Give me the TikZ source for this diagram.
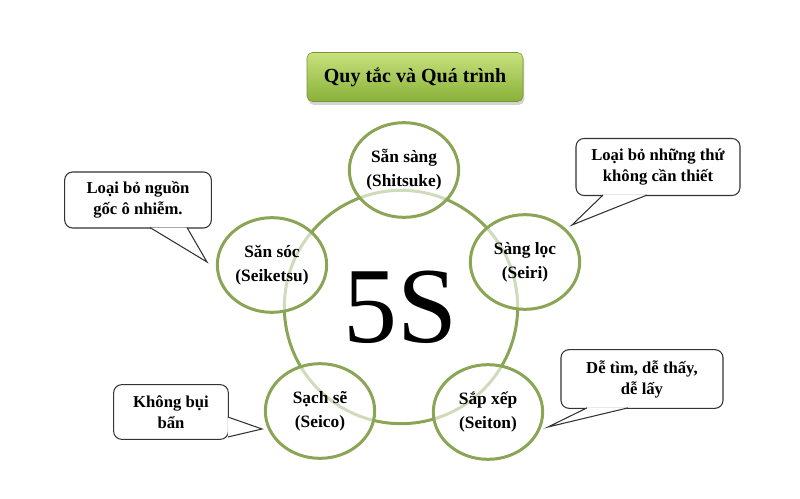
\documentclass[tikz,border=0pt]{standalone}
\usepackage{fontspec}
\setmainfont{Liberation Serif}
\usetikzlibrary{shapes,positioning,calc,shadows}
\definecolor{leaf}{RGB}{138,165,85}
\definecolor{limetop}{RGB}{200,226,125}
\definecolor{limebottom}{RGB}{136,176,56}
\definecolor{limeedge}{RGB}{118,148,58}
\tikzstyle{ring} = [circle, draw=leaf, line width=2.25pt,
    minimum size=175pt, font=\fontsize{81}{81}\selectfont]
\tikzstyle{stage} = [ellipse, draw=leaf, line width=2.25pt, fill=white,
    fill opacity=0.6, text opacity=1, inner sep=0pt, align=center,
    minimum width=82pt, minimum height=71pt, font=\bfseries\fontsize{13}{18}\selectfont]
\tikzstyle{note} = [rectangle, draw=black!80, line width=0.8pt, fill=white,
    rounded corners=6pt, align=center, font=\bfseries\fontsize{12.5}{15.75}\selectfont]
\tikzstyle{pointer} = [draw=black!80, line width=0.8pt, fill=white]
\tikzstyle{heading} = [rectangle, draw=limeedge, rounded corners=4pt,
    top color=limetop, bottom color=limebottom, minimum width=162pt,
    minimum height=36.75pt, font=\bfseries\fontsize{15}{18}\selectfont,
    drop shadow={shadow xshift=1pt, shadow yshift=-2.5pt, opacity=0.35}]

\begin{document}
\begin{tikzpicture}[x=0.75pt, y=0.75pt]
    \useasboundingbox (0,0) rectangle (800,-499);

    \node[heading] (title) at (415,-77) {Quy tắc và Quá trình};

    \node[ring] (core) at (401,-307) {5S};

    \node[stage] (shitsuke) at (404,-170) {Sẵn sàng\\(Shitsuke)};
    \node[stage] (seiri) at (525,-262) {Sàng lọc\\(Seiri)};
    \node[stage] (seiton) at (488,-412) {Sắp xếp\\(Seiton)};
    \node[stage] (seico) at (320,-411) {Sạch sẽ\\(Seico)};
    \node[stage] (seiketsu) at (272,-265) {Săn sóc\\(Seiketsu)};

    \node[note, minimum width=110pt, minimum height=42pt] (noteOrigin) at (138,-200) {Loại bỏ nguồn\\gốc ô nhiễm.};
    \node[note, minimum width=123pt, minimum height=42.75pt] (noteSort) at (658,-167) {Loại bỏ những thứ\\không cần thiết};
    \node[note, minimum width=86pt, minimum height=41pt] (noteClean) at (171,-412) {Không bụi\\bẩn};
    \node[note, minimum width=121.5pt, minimum height=44pt] (noteFind) at (642,-379) {Dễ tìm, dễ thấy,\\dễ lấy};

    \coordinate (tipOrigin) at (207,-262);
    \coordinate (tipSort) at (572,-225);
    \coordinate (tipClean) at (262,-429);
    \coordinate (tipFind) at (548,-427);

    \path[pointer] ($(noteOrigin.south)+(12,1)$) -- (tipOrigin) -- ($(noteOrigin.south)+(49,1)$);
    \path[pointer] ($(noteSort.south)+(-11,1)$) -- (tipSort) -- ($(noteSort.south)+(-55,1)$);
    \path[pointer] ($(noteClean.east)+(-1,-5)$) -- (tipClean) -- ($(noteClean.east)+(-1,-25)$);
    \path[pointer] ($(noteFind.south)+(-14,1)$) -- (tipFind) -- ($(noteFind.south)+(-55,1)$);
\end{tikzpicture}
\end{document}
